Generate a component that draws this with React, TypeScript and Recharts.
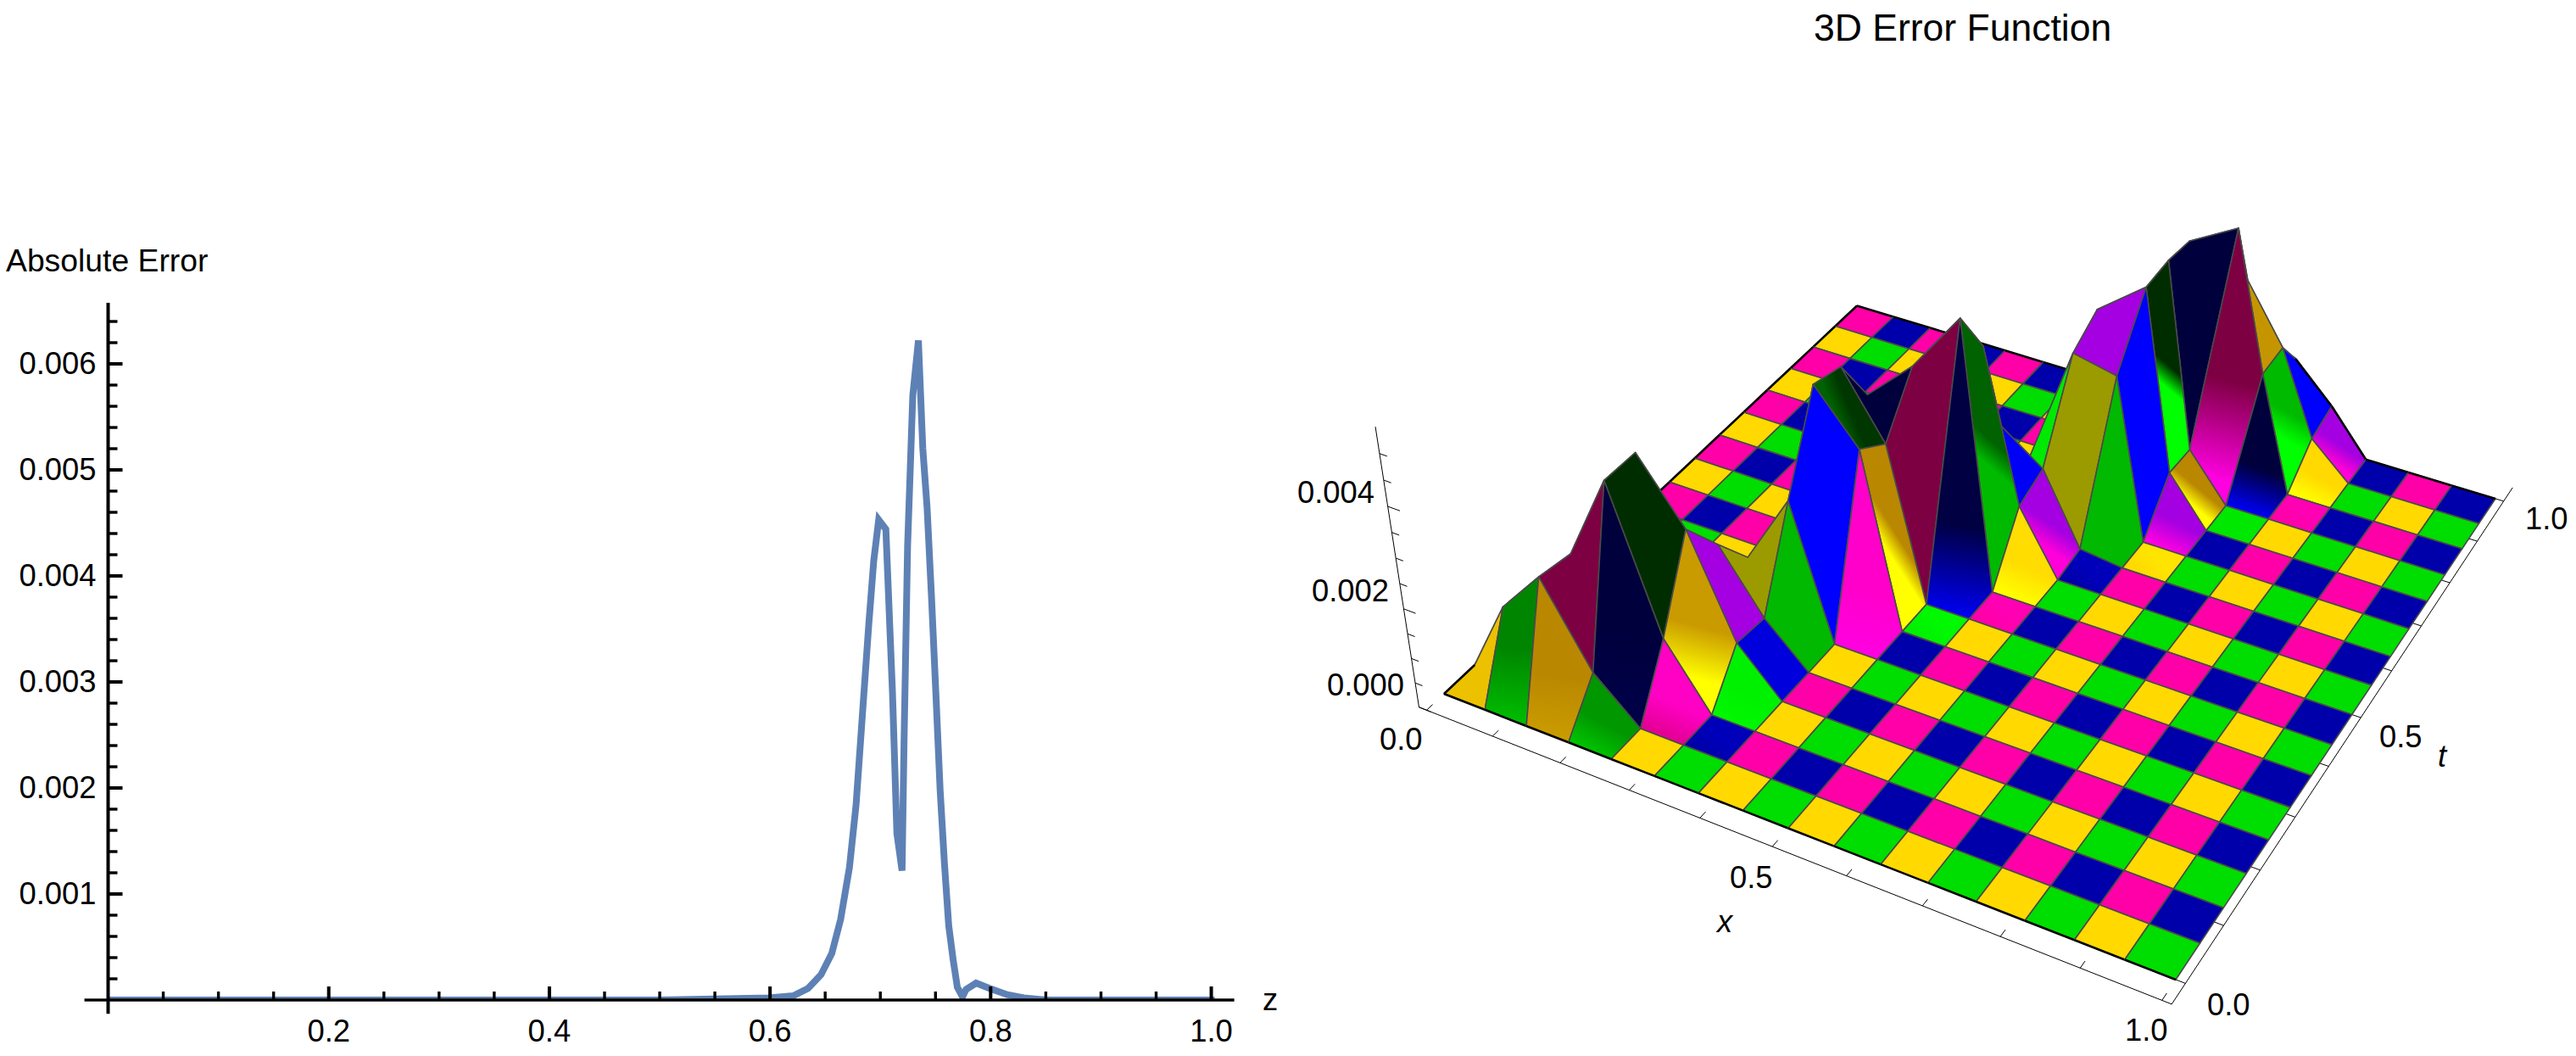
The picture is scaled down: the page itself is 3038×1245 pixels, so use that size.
import React from "react";
import { LineChart, Line, XAxis, YAxis, ReferenceLine, ScatterChart, Scatter } from "recharts";

// left plot: absolute error against z
const errZ = [0, 0.1, 0.2, 0.3, 0.4, 0.5, 0.5993, 0.621, 0.6345, 0.6463, 0.656, 0.664, 0.672, 0.678, 0.6836, 0.6895, 0.694, 0.6985, 0.705, 0.711, 0.715, 0.7197, 0.7215, 0.7247, 0.7294, 0.7345, 0.7385, 0.7424, 0.7463, 0.7503, 0.7542, 0.7581, 0.762, 0.766, 0.7698, 0.7745, 0.7777, 0.7868, 0.799, 0.815, 0.83, 0.85, 0.9, 0.95, 1];
const errValues = [0, 0, 0, 0, 0, 0, 0.00002, 0.00004, 0.00011, 0.00024, 0.00044, 0.00076, 0.00125, 0.00184, 0.00267, 0.00354, 0.00414, 0.00453, 0.00444, 0.0029, 0.00157, 0.00122, 0.00244, 0.00428, 0.0057, 0.00622, 0.0052, 0.00464, 0.00382, 0.0029, 0.00198, 0.00129, 0.0007, 0.00038, 0.00012, 0.00003, 0.0001, 0.00016, 0.00011, 0.00005, 0.00002, 0, 0, 0, 0];
const zTicks = [0.05, 0.1, 0.15, 0.2, 0.25, 0.3, 0.35, 0.4, 0.45, 0.5, 0.55, 0.6, 0.65, 0.7, 0.75, 0.8, 0.85, 0.9, 0.95, 1];
const zLabelled = [0.2, 0.4, 0.6, 0.8, 1];
const errTicks = [0.0002, 0.0004, 0.0006, 0.0008, 0.001, 0.0012, 0.0014, 0.0016, 0.0018, 0.002, 0.0022, 0.0024, 0.0026, 0.0028, 0.003, 0.0032, 0.0034, 0.0036, 0.0038, 0.004, 0.0042, 0.0044, 0.0046, 0.0048, 0.005, 0.0052, 0.0054, 0.0056, 0.0058, 0.006, 0.0062, 0.0064];
const errLabelled = [0.001, 0.002, 0.003, 0.004, 0.005, 0.006];

// right plot: surface heights, one row per t step, one column per x step
const surface = [
  [0, 0, 0, 0, 0, 0, 0, 0, 0, 0, 0, 0, 0, 0, 0, 0, 0],
  [0, 0.00148, 0.00235, 0.00081, 0, 0, 0, 0, 0, 0, 0, 0, 0, 0, 0, 0, 0],
  [0, 0.0003, 0.00224, 0.00384, 0.00122, 0, 0, 0, 0, 0, 0, 0, 0, 0, 0, 0, 0],
  [0, 0, 0.0022, 0.00383, 0.00274, 0.00087, 0, 0, 0, 0, 0, 0, 0, 0, 0, 0, 0],
  [0, 0, 0.0008, 0.0015, 0.00193, 0.00079, 0, 0, 0, 0, 0, 0, 0, 0, 0, 0, 0],
  [0, 0, 0, 0.0006, 0.00115, 0.00251, 0, 0, 0, 0, 0, 0, 0, 0, 0, 0, 0],
  [0, 0, 0, 0, 0.0004, 0.0041, 0.00322, 0, 0, 0, 0, 0, 0, 0, 0, 0, 0],
  [0, 0, 0, 0, 0.001, 0.00395, 0.00283, 0, 0, 0, 0, 0, 0, 0, 0, 0, 0],
  [0, 0, 0, 0, 0.0005, 0.003, 0.00375, 0.00481, 0, 0, 0, 0, 0, 0, 0, 0, 0],
  [0, 0, 0, 0, 0, 0.002, 0.003, 0.0039, 0.0012, 0, 0, 0, 0, 0, 0, 0, 0],
  [0, 0, 0, 0, 0, 0, 0.0005, 0.00198, 0.00143, 0.0001, 0, 0, 0, 0, 0, 0, 0],
  [0, 0, 0, 0, 0, 0, 0, 0.0004, 0.00313, 0.00296, 0, 0, 0, 0, 0, 0, 0],
  [0, 0, 0, 0, 0, 0, 0, 0, 0.00348, 0.0041, 0.0009, 0, 0, 0, 0, 0, 0],
  [0, 0, 0, 0, 0, 0, 0, 0, 0.002, 0.00415, 0.00087, 0, 0, 0, 0, 0, 0],
  [0, 0, 0, 0, 0, 0, 0, 0, 0.0008, 0.00408, 0.00452, 0.00213, 0, 0, 0, 0, 0],
  [0, 0, 0, 0, 0, 0, 0, 0, 0, 0.003, 0.0032, 0.00218, 0.00065, 0, 0, 0, 0],
  [0, 0, 0, 0, 0, 0, 0, 0, 0, 0.001, 0.00176, 0.00152, 0.00083, 0, 0, 0, 0],
];
const spatialTicks = [0, 0.1, 0.2, 0.3, 0.4, 0.5, 0.6, 0.7, 0.8, 0.9, 1];
const heightTicks = [0, 0.0005, 0.001, 0.0015, 0.002, 0.0025, 0.003, 0.0035, 0.004, 0.0045, 0.005];

// how lit each raised face looks: [x step, t step, tone at its front edge, tone at its back edge]
// -1 darkest, 0 flat colour, 1 brightest, 2 lit from the side
const faceTones = [
  [1, 0, -0.2, -0.5], [2, 0, -0.45, -0.6], [3, 0, -0.15, -0.4], [2, 1, -0.9, -0.9], [3, 1, -0.9, -1], [4, 1, -0.2, 0.5],
  [5, 1, 0, 0.2], [4, 2, 1, -0.45], [3, 2, -1, -1], [5, 2, 0.8, 0.6], [3, 3, 0.6, 0.6], [4, 3, 2, 2], [4, 4, 2, 2], [5, 3, 0.6, 0.6],
  [5, 4, 2, 2], [5, 5, 1, 1], [6, 5, 1, 0.6], [6, 6, 1, -0.6], [5, 6, -0.7, -0.95], [5, 7, -1, -1], [6, 7, -0.9, -0.9], [7, 7, 0.8, -0.95],
  [7, 8, -0.2, -0.7], [8, 8, 1, 0.1], [8, 9, 0.9, 2], [8, 10, 2, 2], [7, 9, 0.9, 0.9], [9, 10, 2, 2], [9, 11, 1, 1], [8, 11, 2, 2],
  [10, 11, 1, 2], [9, 12, 1, -1], [10, 12, 1, -0.6], [9, 13, -1, -1], [10, 13, 1, -0.9], [11, 13, 0.9, -1], [11, 14, 1, -0.2],
  [12, 14, 1, 0], [10, 14, -0.5, -0.5], [10, 15, 2, 2], [11, 15, 1, 1], [12, 15, 0.8, 2], [9, 14, -1, -1], [6, 4, 0.1, 0], [6, 3, 0, 0],
  [7, 6, 0.6, 0.8], [8, 7, 0, 0.2], [9, 9, 0, 0.2], [10, 10, 0, 0.3], [11, 12, 0.3, 0.3], [13, 15, 0, 0], [12, 13, 0, 0.2],
];

const font = "'Liberation Sans', Arial, sans-serif";
const cells = surface.length - 1;

// view of the 3D box, fitted to the corners of the reference
function project(u: number, v: number, z: number, vx = 2200, vy = 3272, kz = -23.1) {
  const q = kz * z;
  const w = 1 - 0.112 * u + 0.2022 * v + q;
  return {
    x: (575.6 * u + 929.8 * v + 1703 + vx * q) / w,
    y: (207.6 * u - 384.6 * v + 818 + vy * q) / w,
  };
}
const projectAxis = (u: number, v: number, z: number) => project(u, v, z, 2552, 6480, -10);

// dark, flat, bright, side-lit
const palettes = [
  [[138, 80, 0], [255, 217, 0], [255, 255, 0], [155, 155, 0]],
  [[0, 45, 0], [0, 221, 0], [0, 255, 0], [0, 185, 0]],
  [[110, 0, 55], [255, 0, 168], [255, 0, 225], [165, 0, 225]],
  [[0, 0, 60], [0, 0, 170], [0, 0, 255], [0, 0, 255]],
];

function toneColor(pal: number[][], tone: number) {
  let c = pal[1];
  if (tone === 2) c = pal[3];
  else {
    const to = tone < 0 ? pal[0] : pal[2];
    const k = Math.abs(tone);
    c = pal[1].map((a, n) => Math.round(a + (to[n] - a) * k));
  }
  return `rgb(${c[0]},${c[1]},${c[2]})`;
}

const clampTone = (t: number) => Math.max(-1, Math.min(1, t));
const px = (dz: number) => (dz * 58000) / 50;

const faces: any[] = [];
for (let j = 0; j < cells; j++) {
  for (let i = 0; i < cells; i++) {
    const pt = (a: number, b: number) => project(a / cells, b / cells, surface[b][a]);
    const corners = [pt(i, j), pt(i + 1, j), pt(i + 1, j + 1), pt(i, j + 1)];
    const pal = palettes[(j % 2) * 2 + (i % 2)];
    const z00 = surface[j][i], z10 = surface[j][i + 1], z01 = surface[j + 1][i], z11 = surface[j + 1][i + 1];
    const listed = faceTones.find((t) => t[0] === i && t[1] === j);
    const sx = px((z10 + z11 - z00 - z01) / 2);
    const st = px((z01 + z11 - z00 - z10) / 2);
    const tone = clampTone(-0.5 * st + 0.3 * Math.abs(sx));
    faces.push({
      x: corners.reduce((s, c) => s + c.x, 0) / 4,
      y: corners.reduce((s, c) => s + c.y, 0) / 4,
      i, j, corners,
      depth: 1 - (0.112 * (i + 0.5)) / cells + (0.2022 * (j + 0.5)) / cells,
      frontColor: toneColor(pal, listed ? listed[2] : tone),
      backColor: toneColor(pal, listed ? listed[3] : tone),
    });
  }
}
faces.sort((a, b) => b.depth - a.depth);

function FaceShape(props: any) {
  const { cx, cy } = props;
  const f = props.payload ?? props;
  const pts = f.corners.map((c: any) => ({ x: c.x - f.x + cx, y: c.y - f.y + cy }));
  const id = `face-${f.i}-${f.j}`;
  const mid = (a: any, b: any) => ({ x: (a.x + b.x) / 2, y: (a.y + b.y) / 2 });
  const front = mid(pts[0], pts[1]);
  const back = mid(pts[2], pts[3]);
  const d = `M${pts.map((p: any) => `${p.x},${p.y}`).join("L")}Z`;
  const edges: string[] = [];
  const seg = (a: any, b: any) => edges.push(`M${a.x},${a.y}L${b.x},${b.y}`);
  if (f.j === 0) seg(pts[0], pts[1]);
  if (f.j === cells - 1) seg(pts[2], pts[3]);
  if (f.i === 0) seg(pts[3], pts[0]);
  return (
    <g>
      <defs>
        <linearGradient id={id} gradientUnits="userSpaceOnUse" x1={front.x} y1={front.y} x2={back.x} y2={back.y}>
          <stop offset="0" stopColor={f.frontColor} />
          <stop offset="0.55" stopColor={f.backColor} />
        </linearGradient>
      </defs>
      <path d={d} fill={`url(#${id})`} stroke="#4a4a4a" strokeWidth={1.6} strokeLinejoin="round" />
      {edges.length > 0 && <path d={edges.join("")} fill="none" stroke="#000" strokeWidth={2.6} />}
    </g>
  );
}

// axis box of the 3D plot
const boxU = 0.0117, boxV = 0.0348;
const axisLines = [
  [project(-boxU, -boxV, 0), project(1 + boxU, -boxV, 0)],
  [project(1 + boxU, -boxV, 0), project(1 + boxU, 1 + boxV, 0)],
  [projectAxis(-boxU, -boxV, 0), projectAxis(-boxU, -boxV, 0.0055)],
];
const boxTicks = [
  ...spatialTicks.map((s) => [project(s, -boxV, 0), project(s, -boxV + 0.012, 0)]),
  ...spatialTicks.map((s) => [project(1 + boxU, s, 0), project(1 + boxU - 0.012, s, 0)]),
  ...heightTicks.map((h, k) => [projectAxis(-boxU, -boxV, h), projectAxis(-boxU + (k % 4 === 0 ? 0.018 : 0.011), -boxV, h)]),
];

const errTable = errZ.map((z, k) => ({ z, err: errValues[k] }));

function XTick({ x, y, payload }: any) {
  const major = zLabelled.includes(payload.value);
  return (
    <g>
      <line x1={x} x2={x} y1={y} y2={y - (major ? 16 : 10)} stroke="#000" strokeWidth={major ? 4 : 3.4} />
      {major && <text x={x} y={y + 49} textAnchor="middle" fontSize={36.4} fontFamily={font} fill="#000">{payload.value.toFixed(1)}</text>}
    </g>
  );
}

function YTick({ x, y, payload }: any) {
  const major = errLabelled.includes(payload.value);
  return (
    <g>
      <line x1={x} x2={x + (major ? 17 : 11)} y1={y} y2={y} stroke="#000" strokeWidth={major ? 4 : 3.4} />
      {major && <text x={x - 14} y={y + 12} textAnchor="end" fontSize={36.4} fontFamily={font} fill="#000">{payload.value.toFixed(3)}</text>}
    </g>
  );
}

const plotLabel = { fontFamily: font, fontSize: 36.4, fill: "#000" };

export default function App() {
  return (
    <div style={{ position: "absolute", left: 0, top: 0, width: 3038, height: 1245, background: "#fff", overflow: "hidden" }}>
      <div style={{ position: "absolute", left: 0, top: 0 }}>
        <LineChart width={1515} height={1245} data={errTable} margin={{ top: 357, left: 126.5, right: 59.4, bottom: 65 }}>
          <XAxis dataKey="z" type="number" domain={[0, 1.0208]} ticks={zTicks} interval={0} height={1} tickSize={0} tickMargin={0} tickLine={false} axisLine={{ stroke: "#000", strokeWidth: 3.4 }} tick={<XTick />} allowDataOverflow />
          <YAxis type="number" domain={[0, 0.006576]} ticks={errTicks} interval={0} width={1} tickSize={0} tickMargin={0} tickLine={false} axisLine={{ stroke: "#000", strokeWidth: 4 }} tick={<YTick />} allowDataOverflow />
          <ReferenceLine ifOverflow="visible" segment={[{ x: -0.0215, y: 0 }, { x: 0, y: 0 }]} stroke="#000" strokeWidth={3.4} />
          <ReferenceLine ifOverflow="visible" segment={[{ x: 0, y: -0.00013 }, { x: 0, y: 0 }]} stroke="#000" strokeWidth={4} />
          <Line dataKey="err" type="linear" stroke="#5E81B5" strokeWidth={8} strokeLinecap="square" dot={false} activeDot={false} isAnimationActive={false} />
          <text x={7} y={320} {...plotLabel} fontSize={37.3}>Absolute Error</text>
          <text x={1489} y={1191} {...plotLabel}>z</text>
        </LineChart>
      </div>
      <div style={{ position: "absolute", left: 1515, top: 0 }}>
        <ScatterChart width={1523} height={1245} margin={{ top: 0, left: 0, right: 0, bottom: 0 }}>
          <XAxis dataKey="x" type="number" domain={[1515, 3038]} hide />
          <YAxis dataKey="y" type="number" domain={[0, 1245]} reversed hide />
          {[...axisLines, ...boxTicks].map((s, k) => (
            <ReferenceLine key={k} ifOverflow="visible" segment={s} stroke="#000" strokeWidth={1} />
          ))}
          <Scatter data={faces} shape={<FaceShape />} isAnimationActive={false} />
          <text x={2139 - 1515} y={48} {...plotLabel} fontSize={44.5}>3D Error Function</text>
          <text x={1530 - 1515} y={593} {...plotLabel}>0.004</text>
          <text x={1547 - 1515} y={709} {...plotLabel}>0.002</text>
          <text x={1565 - 1515} y={820} {...plotLabel}>0.000</text>
          <text x={1627 - 1515} y={884} {...plotLabel}>0.0</text>
          <text x={2040 - 1515} y={1047} {...plotLabel}>0.5</text>
          <text x={2025 - 1515} y={1099} {...plotLabel} fontStyle="italic">x</text>
          <text x={2506 - 1515} y={1227} {...plotLabel}>1.0</text>
          <text x={2603 - 1515} y={1197} {...plotLabel}>0.0</text>
          <text x={2806 - 1515} y={881} {...plotLabel}>0.5</text>
          <text x={2875 - 1515} y={904} {...plotLabel} fontStyle="italic">t</text>
          <text x={2978 - 1515} y={624} {...plotLabel}>1.0</text>
        </ScatterChart>
      </div>
    </div>
  );
}
